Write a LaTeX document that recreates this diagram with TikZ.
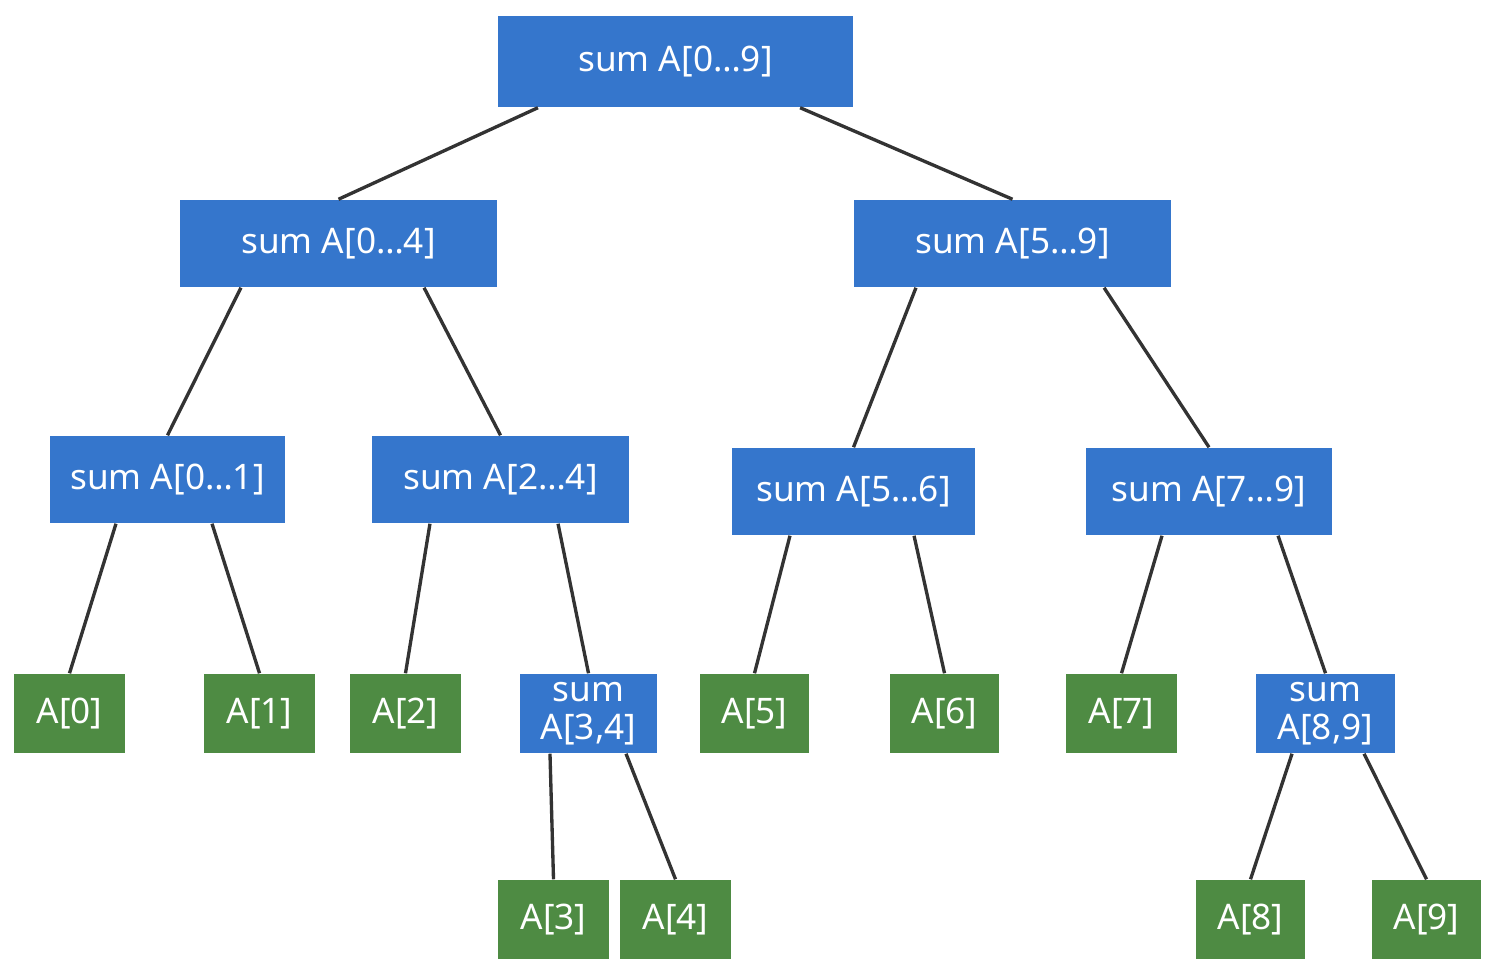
\documentclass[tikz,border=0pt]{standalone}
\usepackage{fontspec}
\setmainfont{Noto Sans}
\usepackage{xcolor}
\definecolor{sumblue}{HTML}{3576CC}
\definecolor{leafgreen}{HTML}{4E8B43}
\definecolor{linkgray}{HTML}{333333}

\tikzset{
  box/.style={inner sep=0pt, text=white, font=\fontsize{10}{10.8}\selectfont, align=center},
  sumbox/.style={box, fill=sumblue, minimum height=0.87cm},
  leafbox/.style={box, fill=leafgreen, minimum width=1.11cm, minimum height=0.79cm},
  link/.style={linkgray, line width=0.95pt}
}

\begin{document}
\begin{tikzpicture}[x=0.01cm, y=-0.01cm]
\useasboundingbox (0,0) rectangle (1492,974);

% sums
\node[sumbox, minimum width=3.55cm, minimum height=0.91cm] (s09) at (675.5,61.5) {sum A[0…9]};
\node[sumbox, minimum width=3.17cm] (s04) at (338.5,243.5) {sum A[0…4]};
\node[sumbox, minimum width=3.17cm] (s59) at (1012.5,243.5) {sum A[5…9]};
\node[sumbox, minimum width=2.35cm] (s01) at (167.5,479.5) {sum A[0…1]};
\node[sumbox, minimum width=2.57cm] (s24) at (500.5,479.5) {sum A[2…4]};
\node[sumbox, minimum width=2.43cm] (s56) at (853.5,491.5) {sum A[5…6]};
\node[sumbox, minimum width=2.46cm] (s79) at (1209,491.5) {sum A[7…9]};
\node[sumbox, minimum width=1.37cm, minimum height=0.79cm] (s34) at (588.5,713.5) {sum\\A[3,4]};
\node[sumbox, minimum width=1.39cm, minimum height=0.79cm] (s89) at (1325.5,713.5) {sum\\A[8,9]};

% leaves
\node[leafbox] (a0) at (69.5,713.5) {A[0]};
\node[leafbox] (a1) at (259.5,713.5) {A[1]};
\node[leafbox] (a2) at (405.5,713.5) {A[2]};
\node[leafbox, minimum width=1.09cm] (a5) at (754.5,713.5) {A[5]};
\node[leafbox, minimum width=1.09cm] (a6) at (944.5,713.5) {A[6]};
\node[leafbox] (a7) at (1121.5,713.5) {A[7]};
\node[leafbox] (a3) at (553.5,919.5) {A[3]};
\node[leafbox] (a4) at (675.5,919.5) {A[4]};
\node[leafbox, minimum width=1.09cm] (a8) at (1250.5,919.5) {A[8]};
\node[leafbox, minimum width=1.09cm] (a9) at (1426.5,919.5) {A[9]};

% links: parent, shift along its bottom edge (cm), child
\foreach \p/\s/\c in {s09/-1.375/s04, s09/1.245/s59,
                      s04/-0.975/s01, s04/0.855/s24,
                      s59/-0.965/s56, s59/0.915/s79,
                      s01/-0.515/a0, s01/0.445/a1,
                      s24/-0.705/a2, s24/0.575/s34,
                      s56/-0.635/a5, s56/0.605/a6,
                      s79/-0.47/a7, s79/0.69/s89,
                      s34/-0.385/a3, s34/0.375/a4,
                      s89/-0.335/a8, s89/0.385/a9}
  \draw[link] ([xshift=\s cm]\p.south) -- (\c.north);
\end{tikzpicture}
\end{document}
